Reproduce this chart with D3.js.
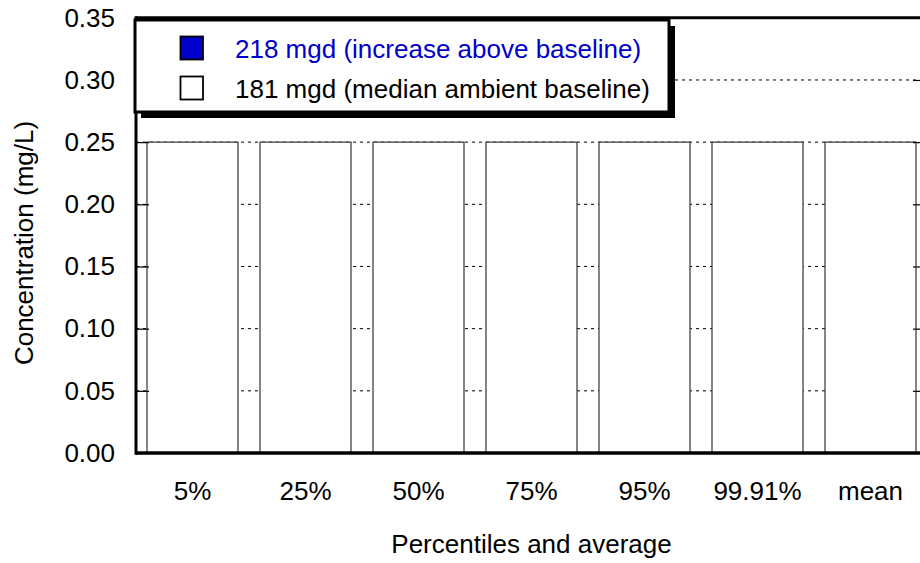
<!DOCTYPE html>
<html>
<head>
<meta charset="utf-8">
<script src="https://cdn.jsdelivr.net/npm/d3@7"></script>
<style>
  html, body { margin: 0; padding: 0; background: #fff; }
  svg { display: block; }
  text { font-family: "Liberation Sans", Arial, Helvetica, sans-serif; }
</style>
</head>
<body>
<svg id="chart" width="920" height="563"></svg>
<script>
// ---- data ----
const categories = ["5%", "25%", "50%", "75%", "95%", "99.91%", "mean"];
const baselineValues = [0.25, 0.25, 0.25, 0.25, 0.25, 0.25, 0.25];   // 181 mgd (median ambient baseline)
const increaseValues = [0, 0, 0, 0, 0, 0, 0];                        // 218 mgd (increase above baseline)
const yTicks = [0.00, 0.05, 0.10, 0.15, 0.20, 0.25, 0.30, 0.35];
const gridTicks = [0.05, 0.10, 0.15, 0.20, 0.25, 0.30];
const seriesNames = ["181 mgd (median ambient baseline)", "218 mgd (increase above baseline)"];
const legendOrder = ["218 mgd (increase above baseline)", "181 mgd (median ambient baseline)"];

const colors = {
  "181 mgd (median ambient baseline)": "#ffffff",
  "218 mgd (increase above baseline)": "#0000cc"
};
const textColors = {
  "181 mgd (median ambient baseline)": "#000000",
  "218 mgd (increase above baseline)": "#0000cc"
};

// ---- layout ----
const pLeft = 136, pRight = 927, pTop = 17.8, pBottom = 453;
const FS = 26;

const svg = d3.select("#chart");

const x = d3.scaleBand()
  .domain(categories)
  .range([pLeft, pRight])
  .paddingInner(22 / 113)
  .paddingOuter(11 / 113);

const y = d3.scaleLinear().domain([0, 0.35]).range([pBottom, pTop]);

// table for stacking
const table = categories.map((c, i) => ({
  cat: c,
  [seriesNames[0]]: baselineValues[i],
  [seriesNames[1]]: increaseValues[i]
}));
const stacked = d3.stack().keys(seriesNames)(table);

// ---- gridlines ----
svg.append("g").selectAll("line")
  .data(gridTicks)
  .join("line")
  .attr("x1", pLeft).attr("x2", pRight)
  .attr("y1", d => y(d)).attr("y2", d => y(d))
  .attr("stroke", "#000")
  .attr("stroke-width", 1)
  .attr("stroke-dasharray", "3,4");

// ---- bars ----
const gBars = svg.append("g");
stacked.forEach(s => {
  gBars.append("g").selectAll("rect")
    .data(s)
    .join("rect")
    .attr("x", d => x(d.data.cat))
    .attr("width", x.bandwidth())
    .attr("y", d => y(d[1]))
    .attr("height", d => Math.max(0, y(d[0]) - y(d[1])))
    .attr("fill", colors[s.key])
    .attr("stroke", "#333340")
    .attr("stroke-width", 1.2);
});

// ---- axes ----
const yAxisL = d3.axisLeft(y)
  .tickValues(yTicks)
  .tickFormat(d3.format(".2f"))
  .tickSize(-13)
  .tickPadding(21)
  .tickSizeOuter(0);
const gL = svg.append("g").attr("transform", `translate(${pLeft},0)`).call(yAxisL);
gL.select(".domain").remove();
gL.selectAll(".tick line").attr("stroke", "#000").attr("stroke-width", 1.2);
gL.selectAll(".tick text")
  .attr("font-size", FS)
  .attr("fill", "#000")
  .attr("font-family", "'Liberation Sans', Arial, sans-serif");

const yAxisR = d3.axisRight(y)
  .tickValues(yTicks)
  .tickFormat("")
  .tickSize(-14)
  .tickSizeOuter(0);
const gR = svg.append("g").attr("transform", `translate(${pRight},0)`).call(yAxisR);
gR.select(".domain").remove();
gR.selectAll(".tick line").attr("stroke", "#000").attr("stroke-width", 1.2);

const xAxis = d3.axisBottom(x).tickSize(0).tickPadding(29);
const gX = svg.append("g").attr("transform", `translate(0,${pBottom})`).call(xAxis);
gX.select(".domain").remove();
gX.selectAll(".tick text")
  .attr("font-size", FS)
  .attr("fill", "#000")
  .attr("font-family", "'Liberation Sans', Arial, sans-serif");

// frame
svg.append("line").attr("x1", pLeft).attr("x2", pRight).attr("y1", pBottom).attr("y2", pBottom)
  .attr("stroke", "#000").attr("stroke-width", 3.5);
svg.append("line").attr("x1", pLeft).attr("x2", pRight).attr("y1", pTop).attr("y2", pTop)
  .attr("stroke", "#000").attr("stroke-width", 3);
svg.append("line").attr("x1", pLeft).attr("x2", pLeft).attr("y1", pTop - 1.5).attr("y2", pBottom + 1.75)
  .attr("stroke", "#000").attr("stroke-width", 3);
svg.append("line").attr("x1", pRight).attr("x2", pRight).attr("y1", pTop).attr("y2", pBottom)
  .attr("stroke", "#000").attr("stroke-width", 1.5);

// axis titles
svg.append("text")
  .attr("x", (pLeft + pRight) / 2)
  .attr("y", 553)
  .attr("text-anchor", "middle")
  .attr("font-size", FS)
  .text("Percentiles and average");

svg.append("text")
  .attr("transform", "translate(33,243) rotate(-90)")
  .attr("text-anchor", "middle")
  .attr("font-size", FS)
  .text("Concentration (mg/L)");

// ---- legend ----
const lg = svg.append("g");
const lx = 135, ly = 20, lw = 534, lh = 92;
lg.append("rect").attr("x", lx + 6).attr("y", ly + 6).attr("width", lw).attr("height", lh)
  .attr("fill", "#000");
lg.append("rect").attr("x", lx).attr("y", ly).attr("width", lw).attr("height", lh)
  .attr("fill", "#fff").attr("stroke", "#000").attr("stroke-width", 3);

const items = lg.selectAll("g.item")
  .data(legendOrder)
  .join("g")
  .attr("class", "item")
  .attr("transform", (d, i) => `translate(0,${i * 40})`);
items.append("rect")
  .attr("x", 180.5).attr("y", 36.5)
  .attr("width", 22.5).attr("height", 23)
  .attr("fill", d => colors[d])
  .attr("stroke", "#000").attr("stroke-width", 1.8);
items.append("text")
  .attr("x", 235).attr("y", 58)
  .attr("font-size", FS)
  .attr("fill", d => textColors[d])
  .text(d => d);
</script>
</body>
</html>
